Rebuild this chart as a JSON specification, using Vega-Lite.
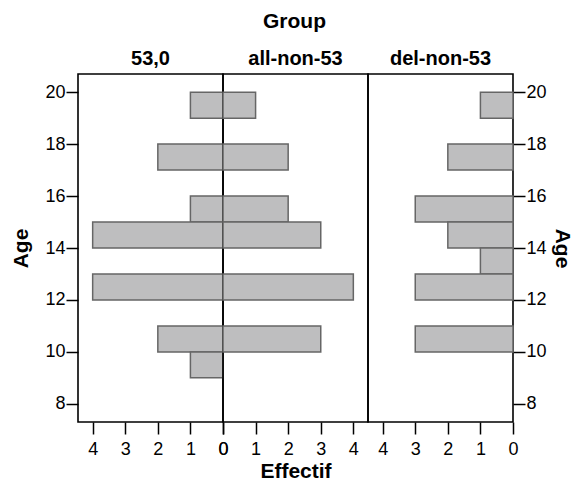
{
  "$schema": "https://vega.github.io/schema/vega-lite/v6.json",
  "padding": {"left": 10, "top": 11, "right": 2, "bottom": 2},
  "background": "white",
  "title": {"text": "Group", "fontSize": 21, "fontWeight": "bold", "anchor": "middle", "offset": 16, "frame": "bounds", "dx": 3},
  "data": {"values": [
    {"group": "53,0", "age_from": 19, "age_to": 20, "count": 1},
    {"group": "53,0", "age_from": 17, "age_to": 18, "count": 2},
    {"group": "53,0", "age_from": 15, "age_to": 16, "count": 1},
    {"group": "53,0", "age_from": 14, "age_to": 15, "count": 4},
    {"group": "53,0", "age_from": 12, "age_to": 13, "count": 4},
    {"group": "53,0", "age_from": 10, "age_to": 11, "count": 2},
    {"group": "53,0", "age_from": 9, "age_to": 10, "count": 1},
    {"group": "all-non-53", "age_from": 19, "age_to": 20, "count": 1},
    {"group": "all-non-53", "age_from": 17, "age_to": 18, "count": 2},
    {"group": "all-non-53", "age_from": 15, "age_to": 16, "count": 2},
    {"group": "all-non-53", "age_from": 14, "age_to": 15, "count": 3},
    {"group": "all-non-53", "age_from": 12, "age_to": 13, "count": 4},
    {"group": "all-non-53", "age_from": 10, "age_to": 11, "count": 3},
    {"group": "del-non-53", "age_from": 19, "age_to": 20, "count": 1},
    {"group": "del-non-53", "age_from": 17, "age_to": 18, "count": 2},
    {"group": "del-non-53", "age_from": 15, "age_to": 16, "count": 3},
    {"group": "del-non-53", "age_from": 14, "age_to": 15, "count": 2},
    {"group": "del-non-53", "age_from": 13, "age_to": 14, "count": 1},
    {"group": "del-non-53", "age_from": 12, "age_to": 13, "count": 3},
    {"group": "del-non-53", "age_from": 10, "age_to": 11, "count": 3}
  ]},
  "spacing": 0,
  "bounds": "flush",
  "hconcat": [
    {
      "width": 145, "height": 348,
      "title": {"text": "53,0"},
      "transform": [{"filter": "datum.group === '53,0'"}],
      "mark": {"type": "bar", "fill": "#bebebf", "stroke": "#666666", "strokeWidth": 1.5},
      "encoding": {
        "y": {"field": "age_from", "type": "quantitative", "scale": {"domain": [7.3, 20.7], "nice": false, "zero": false},
              "axis": {"orient": "left", "values": [8, 10, 12, 14, 16, 18, 20], "title": "Age", "titlePadding": 13}},
        "y2": {"field": "age_to"},
        "x": {"field": "count", "type": "quantitative", "scale": {"domain": [0, 4.45], "nice": false, "reverse": true},
              "axis": {"values": [0, 1, 2, 3, 4], "title": null}},
        "x2": {"datum": 0}
      }
    },
    {
      "width": 145, "height": 348,
      "title": {"text": "all-non-53"},
      "transform": [{"filter": "datum.group === 'all-non-53'"}],
      "mark": {"type": "bar", "fill": "#bebebf", "stroke": "#666666", "strokeWidth": 1.5},
      "encoding": {
        "y": {"field": "age_from", "type": "quantitative", "scale": {"domain": [7.3, 20.7], "nice": false, "zero": false}, "axis": null},
        "y2": {"field": "age_to"},
        "x": {"field": "count", "type": "quantitative", "scale": {"domain": [0, 4.45], "nice": false},
              "axis": {"values": [0, 1, 2, 3, 4], "title": "Effectif"}},
        "x2": {"datum": 0}
      }
    },
    {
      "width": 145, "height": 348,
      "title": {"text": "del-non-53"},
      "transform": [{"filter": "datum.group === 'del-non-53'"}],
      "mark": {"type": "bar", "fill": "#bebebf", "stroke": "#666666", "strokeWidth": 1.5},
      "encoding": {
        "y": {"field": "age_from", "type": "quantitative", "scale": {"domain": [7.3, 20.7], "nice": false, "zero": false},
              "axis": {"orient": "right", "values": [8, 10, 12, 14, 16, 18, 20], "title": "Age", "titleAngle": 90, "titlePadding": 5}},
        "y2": {"field": "age_to"},
        "x": {"field": "count", "type": "quantitative", "scale": {"domain": [0, 4.45], "nice": false, "reverse": true},
              "axis": {"values": [0, 1, 2, 3, 4], "title": null}},
        "x2": {"datum": 0}
      }
    }
  ],
  "config": {
    "font": "Liberation Sans",
    "view": {"stroke": "black", "strokeWidth": 1.6},
    "axis": {
      "labelFont": "Liberation Sans", "labelFontSize": 18, "labelColor": "black",
      "tickSize": 12, "tickColor": "black", "tickWidth": 1.5,
      "domain": false, "grid": false,
      "titleFont": "Liberation Sans", "titleFontSize": 21, "titleFontWeight": "bold", "titleColor": "black",
      "labelPadding": 1, "labelFlush": false, "labelOverlap": false
    },
    "axisX": {"labelPadding": 6, "titlePadding": 2},
    "title": {"font": "Liberation Sans", "fontSize": 20, "fontWeight": "bold", "color": "black", "offset": 5}
  }
}
